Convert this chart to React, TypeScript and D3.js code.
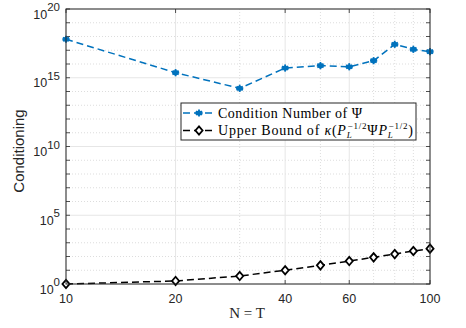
import React from "react";
import * as d3 from "d3";

const nValues = [10, 20, 30, 40, 50, 60, 70, 80, 90, 100];
const conditionNumber = [6.3e17, 2.34e15, 1.7e14, 5.1e15, 7.6e15, 6.3e15, 1.74e16, 2.7e17, 1.17e17, 7.9e16];
const upperBound = [1, 1.66, 3.8, 10, 22.9, 46.8, 87, 151, 251, 372];
const xMajorTicks = [10, 20, 40, 60, 100];
const xMinorTicks = [30, 50, 70, 80, 90];
const yMajorExps = [0, 5, 10, 15, 20];
const yMinorExps = d3.range(0, 21);

const W = 466, H = 328;
const L = 66, R = 430, T = 9, B = 284;
const AX = "#262626";
const BLUE = "#0072BD";

export default function App() {
  const x = d3.scaleLog().domain([10, 100]).range([L, R]);
  const y = d3.scaleLog().domain([1, 1e20]).range([B, T]);
  const line = d3.line<number>().x((_, i) => x(nValues[i])).y((d) => y(d));

  const star = (cx: number, cy: number, k: number) => {
    const r = 3.6;
    const segs = [0, 60, 120].map((a) => {
      const rad = (a * Math.PI) / 180 + Math.PI / 2;
      return (
        <line key={a} x1={cx - r * Math.cos(rad)} y1={cy - r * Math.sin(rad)} x2={cx + r * Math.cos(rad)} y2={cy + r * Math.sin(rad)} stroke={BLUE} strokeWidth={1.8} />
      );
    });
    return (
      <g key={k}>
        <line x1={cx - r} y1={cy} x2={cx + r} y2={cy} stroke={BLUE} strokeWidth={1.8} />
        {segs}
        <circle cx={cx} cy={cy} r={2.6} fill={BLUE} />
      </g>
    );
  };
  const diamond = (cx: number, cy: number, k: number) => {
    const r = 4.2;
    return (
      <path key={k} d={`M${cx},${cy - r}L${cx + r * 0.85},${cy}L${cx},${cy + r}L${cx - r * 0.85},${cy}Z`} fill="white" stroke="black" strokeWidth={1.8} />
    );
  };

  const sans = "'Liberation Sans', Arial, sans-serif";
  const serif = "'Liberation Serif', 'DejaVu Serif', serif";

  return (
    <svg width={W} height={H} style={{ position: "fixed", left: 0, top: 0, background: "white", fontFamily: sans }}>
      <rect x={0} y={0} width={W} height={H} fill="white" />
      {/* minor grid */}
      {yMinorExps.filter((e) => !yMajorExps.includes(e)).map((e) => (
        <line key={"ym" + e} x1={L} x2={R} y1={y(Math.pow(10, e))} y2={y(Math.pow(10, e))} stroke="#d4d4d4" strokeWidth={0.8} strokeDasharray="1,2" />
      ))}
      {xMinorTicks.map((v) => (
        <line key={"xm" + v} x1={x(v)} x2={x(v)} y1={T} y2={B} stroke="#d4d4d4" strokeWidth={0.8} strokeDasharray="1,2" />
      ))}
      {/* major grid */}
      {yMajorExps.map((e) => (
        <line key={"yg" + e} x1={L} x2={R} y1={y(Math.pow(10, e))} y2={y(Math.pow(10, e))} stroke="#e6e6e6" strokeWidth={1} />
      ))}
      {xMajorTicks.map((v) => (
        <line key={"xg" + v} x1={x(v)} x2={x(v)} y1={T} y2={B} stroke="#e6e6e6" strokeWidth={1} />
      ))}
      {/* ticks */}
      {yMinorExps.map((e) => {
        const yy = y(Math.pow(10, e));
        return (
          <g key={"yt" + e}>
            <line x1={L} x2={L + 4} y1={yy} y2={yy} stroke={AX} strokeWidth={0.8} />
            <line x1={R} x2={R - 4} y1={yy} y2={yy} stroke={AX} strokeWidth={0.8} />
          </g>
        );
      })}
      {xMajorTicks.map((v) => (
        <g key={"xt" + v}>
          <line x1={x(v)} x2={x(v)} y1={B} y2={B - 4} stroke={AX} strokeWidth={0.8} />
          <line x1={x(v)} x2={x(v)} y1={T} y2={T + 4} stroke={AX} strokeWidth={0.8} />
        </g>
      ))}
      {/* data */}
      <path d={line(conditionNumber) || ""} fill="none" stroke={BLUE} strokeWidth={1.5} strokeDasharray="7,4" />
      {conditionNumber.map((d, i) => star(x(nValues[i]), y(d), i))}
      <path d={line(upperBound) || ""} fill="none" stroke="black" strokeWidth={1.5} strokeDasharray="7,4" />
      {upperBound.map((d, i) => diamond(x(nValues[i]), y(d), i))}
      {/* axes box */}
      <rect x={L} y={T} width={R - L} height={B - T} fill="none" stroke={AX} strokeWidth={1} />
      {/* tick labels */}
      {xMajorTicks.map((v) => (
        <text key={"xl" + v} x={x(v)} y={B + 19} textAnchor="middle" fontSize={12.5} fill={AX}>{v}</text>
      ))}
      {yMajorExps.map((e) => {
        const yy = y(Math.pow(10, e));
        return (
          <text key={"yl" + e} x={60} y={yy + 9.5} textAnchor="end" fontSize={12.5} fill={AX}>
            10<tspan dy={-7.5} fontSize={11.5}>{e}</tspan>
          </text>
        );
      })}
      {/* axis labels */}
      <text x={247} y={318} textAnchor="middle" style={{ fontFamily: serif }} fontSize={15} fill={AX}>N = T</text>
      <text transform={`translate(24,151) rotate(-90)`} textAnchor="middle" fontSize={15} fill={AX}>Conditioning</text>
      {/* legend */}
      <g style={{ fontFamily: serif }}>
        <rect x={181} y={103} width={235} height={37} fill="white" stroke={AX} strokeWidth={1} />
        <line x1={183} x2={215} y1={113} y2={113} stroke={BLUE} strokeWidth={1.5} strokeDasharray="7,4" />
        {star(199, 113, 100)}
        <text x={218} y={117.5} fontSize={14} fill="black" textLength={144} lengthAdjust="spacing">Condition Number of Ψ</text>
        <line x1={183} x2={215} y1={130.5} y2={130.5} stroke="black" strokeWidth={1.5} strokeDasharray="7,4" />
        {diamond(199, 130.5, 101)}
        <text x={218} y={135} fontSize={14} fill="black" textLength={195} lengthAdjust="spacing">
          Upper Bound of <tspan fontStyle="italic">κ</tspan>(<tspan fontStyle="italic">P</tspan>
          <tspan fontSize={9} dy={3} fontStyle="italic">L</tspan>
          <tspan fontSize={9} dy={-9} dx={-5}>−1/2</tspan>
          <tspan dy={6}>Ψ</tspan><tspan fontStyle="italic">P</tspan>
          <tspan fontSize={9} dy={3} fontStyle="italic">L</tspan>
          <tspan fontSize={9} dy={-9} dx={-5}>−1/2</tspan>
          <tspan dy={6}>)</tspan>
        </text>
      </g>
    </svg>
  );
}
